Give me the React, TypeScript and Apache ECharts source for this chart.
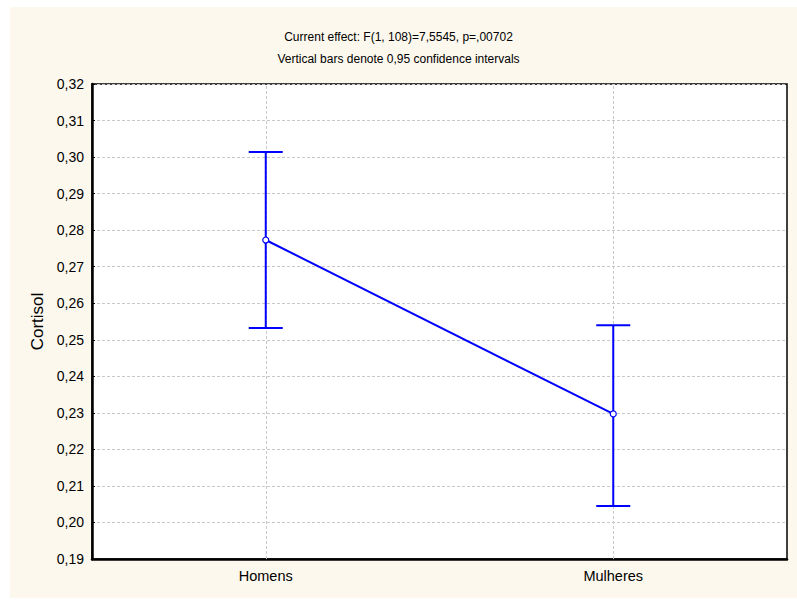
import React, { useEffect, useRef } from "react";
import * as echarts from "echarts";

const categories = ["Homens", "Mulheres"];
const means = [0.2773, 0.2297];
const lower = [0.2532, 0.2045];
const upper = [0.3014, 0.254];
const titleLine1 = "Current effect: F(1, 108)=7,5545, p=,00702";
const titleLine2 = "Vertical bars denote 0,95 confidence intervals";
const yName = "Cortisol";

const FONT = "'Liberation Sans', Arial, sans-serif";
const BLUE = "#0000ff";
const GRID = { color: "#c8c8c8", type: [3, 2] as number[], width: 1 };

export default function App() {
  const ref = useRef<HTMLDivElement>(null);
  useEffect(() => {
    if (!ref.current) return;
    const chart = echarts.init(ref.current, undefined, { renderer: "svg" });
    const errData = categories.map((c, i) => [i, lower[i], upper[i]]);
    chart.setOption({
      animation: false,
      backgroundColor: "#ffffff",
      textStyle: { fontFamily: FONT },
      graphic: [
        {
          type: "rect",
          z: -10,
          silent: true,
          shape: { x: 10, y: 7, width: 787, height: 591 },
          style: { fill: "#fdf8ee" },
        },
        {
          type: "text",
          x: 398.5,
          y: 37,
          style: {
            text: titleLine1,
            textAlign: "center",
            textVerticalAlign: "middle",
            font: `12px ${FONT}`,
            fill: "#000",
          },
        },
        {
          type: "text",
          x: 398.5,
          y: 59,
          style: {
            text: titleLine2,
            textAlign: "center",
            textVerticalAlign: "middle",
            font: `12px ${FONT}`,
            fill: "#000",
          },
        },
      ],
      grid: {
        left: 92,
        top: 84,
        right: 10,
        bottom: 41,
        show: true,
        backgroundColor: "#ffffff",
        borderColor: "#000000",
        borderWidth: 1.5,
      },
      xAxis: [
        {
          type: "category",
          data: categories,
          boundaryGap: true,
          position: "bottom",
          axisLine: { lineStyle: { color: "#000", width: 2.5 } },
          axisTick: { inside: true, length: 3, alignWithLabel: true, lineStyle: { color: "#000" } },
          axisLabel: { color: "#000", fontSize: 14.5, fontFamily: FONT, margin: 9 },
          splitLine: { show: false },
        },
        {
          type: "category",
          data: categories,
          boundaryGap: true,
          position: "top",
          axisLine: { show: false },
          axisTick: { inside: true, length: 3, alignWithLabel: true, lineStyle: { color: "#000" } },
          axisLabel: { show: false },
          splitLine: { show: false },
        },
      ],
      yAxis: {
        type: "value",
        min: 0.19,
        max: 0.32,
        interval: 0.01,
        name: yName,
        nameLocation: "middle",
        nameGap: 46,
        nameRotate: 90,
        nameTextStyle: { color: "#000", fontSize: 17, fontFamily: FONT },
        axisLine: { show: true, lineStyle: { color: "#000", width: 2.5 } },
        axisTick: { show: true, inside: true, length: 3, lineStyle: { color: "#000" } },
        axisLabel: {
          color: "#000",
          fontSize: 14,
          fontFamily: FONT,
          margin: 8,
          formatter: (v: number) => v.toFixed(2).replace(".", ","),
        },
        splitLine: { show: true, lineStyle: GRID },
      },
      series: [
        {
          type: "custom",
          data: errData,
          z: 3,
          renderItem: (params: any, api: any) => {
            const x = api.value(0);
            const lo = api.coord([x, api.value(1)]);
            const hi = api.coord([x, api.value(2)]);
            const hw = 17;
            const style = { stroke: BLUE, lineWidth: 2 };
            return {
              type: "group",
              children: [
                { type: "line", shape: { x1: lo[0], y1: lo[1], x2: hi[0], y2: hi[1] }, style },
                { type: "line", shape: { x1: hi[0] - hw, y1: hi[1], x2: hi[0] + hw, y2: hi[1] }, style },
                { type: "line", shape: { x1: lo[0] - hw, y1: lo[1], x2: lo[0] + hw, y2: lo[1] }, style },
              ],
            };
          },
        },
        {
          type: "line",
          data: means,
          z: 4,
          symbol: "circle",
          symbolSize: 6,
          itemStyle: { color: "#ffffff", borderColor: BLUE, borderWidth: 1.2 },
          lineStyle: { color: BLUE, width: 2 },
          markLine: {
            silent: true,
            symbol: "none",
            z: 1,
            label: { show: false },
            lineStyle: GRID,
            data: categories.map((c) => ({ xAxis: c })),
          },
        },
      ],
    });
    return () => chart.dispose();
  }, []);
  return (
    <div
      ref={ref}
      style={{ position: "absolute", left: 0, top: 0, width: 797, height: 600 }}
    />
  );
}
